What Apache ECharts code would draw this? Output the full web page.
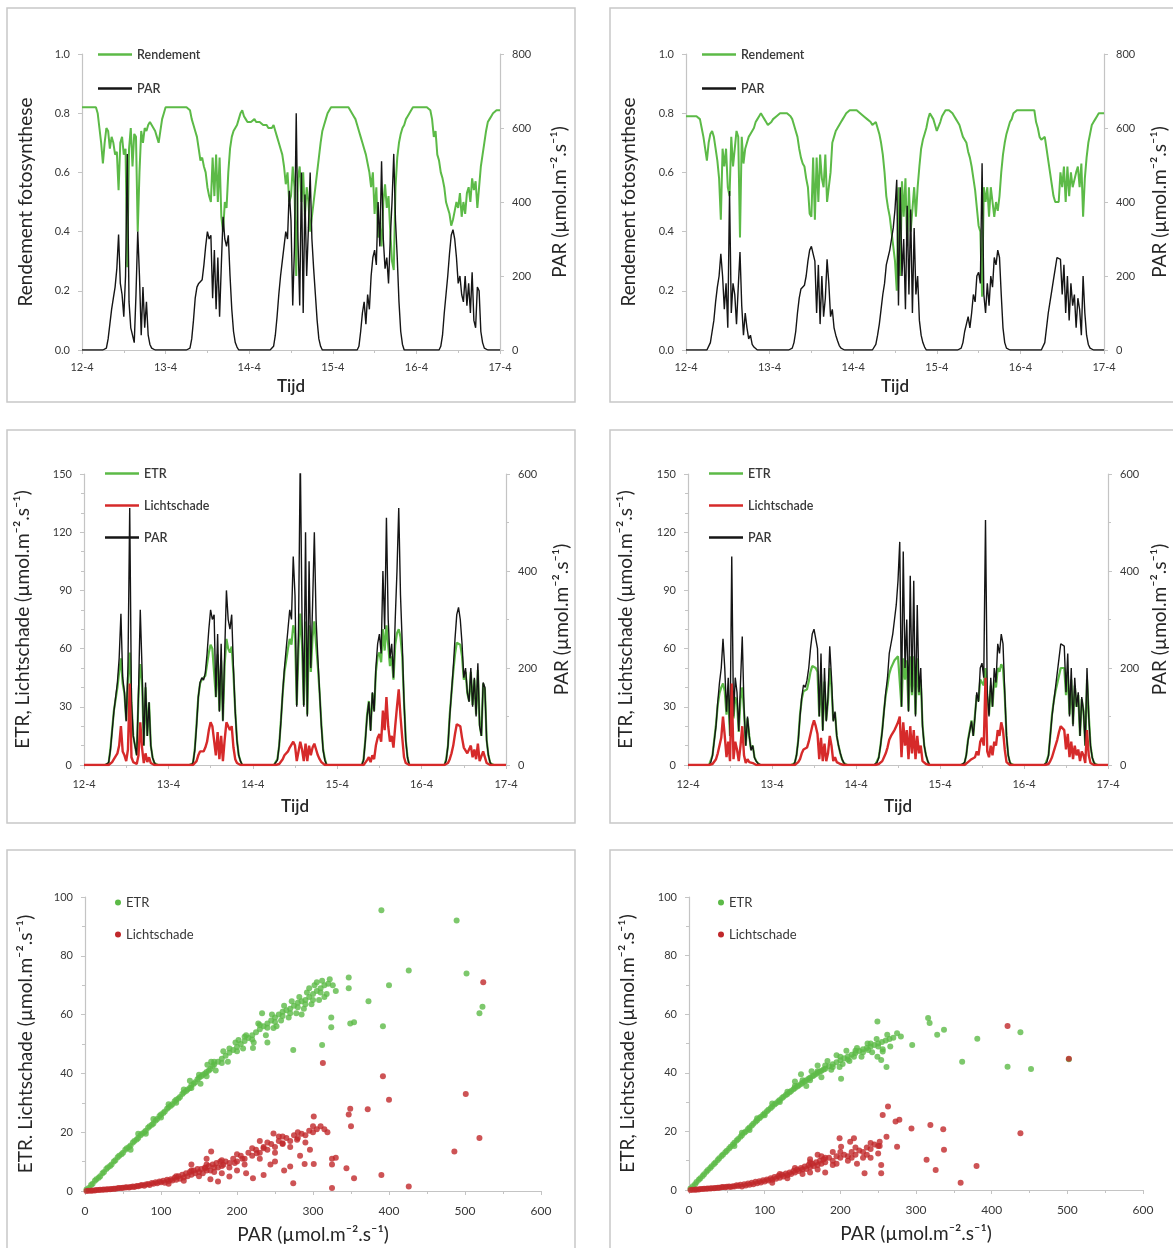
<!DOCTYPE html>
<html><head><meta charset="utf-8">
<script src="https://cdn.jsdelivr.net/npm/echarts@6/dist/echarts.min.js"></script>
<style>html,body{margin:0;padding:0;background:#fff}#c{width:1173px;height:1248px}</style>
</head><body><div id="c"></div><script>
// ---------- tick labels ----------
const dayLabels = ['12-4','13-4','14-4','15-4','16-4','17-4'];

// ---------- left column time series (half-hour steps, 12-4 00:00 .. 17-4 00:00) ----------
const parL = [
0,0,0,0,0,0,0,0,0,0,0,0,0,0, 5,30,70,110,140,170,220,312,180,150, 90,200,530,130,60,40,20,150,320,200, 40,170,60,130,40,15,5, 0,0,0,0,0,0,0,
0,0,0,0,0,0,0,0,0,0,0,0,0,0, 5,30,80,140,170,180,175,190,230,280, 320,300,310,140,270,110,250,90,230,360, 300,280,310,200,110,50,20,8, 0,0,0,0,0,0,
0,0,0,0,0,0,0,0,0,0,0,0,0,0, 10,40,90,150,200,240,280,320,300,430, 350,120,280,640,300,120,480,100,420,200, 330,480,300,220,150,80,30,10, 0,0,0,0,0,0,
0,0,0,0,0,0,0,0,0,0,0,0,0,0,0, 10,50,100,130,70,150,110,200,250, 270,230,400,280,510,300,220,250,180,300, 400,530,350,250,130,50,15, 0,0,0,0,0,0,0,
0,0,0,0,0,0,0,0,0,0,0,0,0,0, 10,40,100,150,200,260,310,325,300,250, 180,200,150,130,200,120,180,100,210,80, 60,170,160,50,20,5, 0,0,0,0,0,0,0,0,
0];
const rendL = [
0.82,0.82,0.82,0.82,0.82,0.82,0.82,0.82,0.82, 0.80,0.75,0.70,0.63,0.70,0.75,0.74,0.68,0.72,0.70, 0.66,0.67,0.54,0.70,0.72,0.66,0.68,0.28,0.68,0.75, 0.62,0.73,0.72,0.40,0.60,0.74,0.70,0.75,0.74,0.76, 0.77,0.76,0.75,0.74,0.72,0.70,0.74,0.78,0.80,
0.82,0.82,0.82,0.82,0.82,0.82,0.82,0.82,0.82,0.82,0.82,0.82,0.82,0.82, 0.81,0.78,0.76,0.74,0.72,0.68,0.64,0.65,0.62,0.60, 0.55,0.52,0.50,0.65,0.52,0.66,0.50,0.65,0.45,0.40, 0.50,0.48,0.60,0.68,0.72,0.74,0.75,0.76,0.78,0.80, 0.81,0.79,0.78,0.77,
0.77,0.77,0.77,0.78,0.77,0.77,0.77,0.77,0.76,0.76, 0.76,0.75,0.75,0.75,0.76,0.74,0.72,0.70,0.68,0.66, 0.62,0.56,0.60,0.50,0.52,0.62,0.55,0.25,0.58,0.62, 0.50,0.60,0.45,0.55,0.50,0.40,0.45,0.50,0.55,0.60, 0.65,0.70,0.74,0.76,0.78,0.80,0.81,0.82,
0.82,0.82,0.82,0.82,0.82,0.82,0.82,0.82,0.82,0.82, 0.81,0.80,0.79,0.78,0.76,0.74,0.72,0.70,0.68,0.66, 0.63,0.60,0.55,0.60,0.46,0.55,0.38,0.42,0.35,0.50, 0.56,0.48,0.52,0.40,0.30,0.27,0.55,0.65,0.70,0.73, 0.75,0.76,0.78,0.79,0.80,0.81,0.82,0.82,
0.82,0.82,0.82,0.82,0.82,0.82,0.82,0.82, 0.81,0.78, 0.72,0.74,0.66,0.64,0.60,0.58,0.55,0.50,0.48,0.46, 0.42,0.44,0.47,0.50,0.48,0.53,0.45,0.50,0.46,0.53, 0.55,0.50,0.58,0.54,0.57,0.48,0.55,0.62,0.66,0.70, 0.74,0.77,0.78,0.79,0.80,0.80,0.81,0.81,
0.81];
const etrL = [
0,0,0,0,0,0,0,0,0,0,0,0,0,0, 1,8,18,28,34,40,48,55,42,37, 23,45,58,32,15,10,5,36,52,44, 10,40,15,32,10,4,1, 0,0,0,0,0,0,0,
0,0,0,0,0,0,0,0,0,0,0,0,0,0, 1,8,21,35,42,44,43,46,52,58, 62,60,61,35,57,28,54,23,52,65, 60,58,61,47,28,13,5,2, 0,0,0,0,0,0,
0,0,0,0,0,0,0,0,0,0,0,0,0,0, 3,10,23,37,48,54,60,65,62,72, 68,31,60,78,62,31,74,26,72,48, 66,74,62,51,37,21,8,3, 0,0,0,0,0,0,
0,0,0,0,0,0,0,0,0,0,0,0,0,0,0, 3,13,26,33,18,37,28,48,56, 58,53,70,59,72,62,51,56,44,62, 68,70,66,56,33,13,4, 0,0,0,0,0,0,0,
0,0,0,0,0,0,0,0,0,0,0,0,0,0, 3,10,26,37,48,57,63,64,62,56, 44,48,37,33,48,31,44,26,49,21, 15,42,39,13,5,1, 0,0,0,0,0,0,0,0,
0];
const lsL = [
0,0,0,0,0,0,0,0,0,0,0,0,0,0, 0,0.5,1.5,3,4,6,10,20,7,5, 2,8,42,4,1.5,1,0.5,5,22,9, 1,6,1.5,4,1,0,0, 0,0,0,0,0,0,0,
0,0,0,0,0,0,0,0,0,0,0,0,0,0, 0,0.5,2,5,7,8,7,9,12,18, 22,20,21,5,17,3,15,2,13,22, 20,18,20,9,3,1,0.5,0, 0,0,0,0,0,0,
0,0,0,0,0,0,0,0,0,0,0,0,0,0, 0,0.5,1.5,3,5,6,7,9,8,12, 10,2,7,12,8,2,11,2,10,5, 9,11,8,5,3,1.5,0.5,0, 0,0,0,0,0,0,
0,0,0,0,0,0,0,0,0,0,0,0,0,0,0, 0,1,2.5,4,1.5,5,3,10,14, 16,12,28,18,35,20,12,15,9,20, 30,39,25,14,4,1,0, 0,0,0,0,0,0,0,
0,0,0,0,0,0,0,0,0,0,0,0,0,0, 0,1,3,6,10,16,21,22,20,14, 9,10,6,5,10,4,8,3,11,2, 1.5,7,7,1,0.5,0, 0,0,0,0,0,0,0,0,
0];

// ---------- right column time series ----------
const parR = [
0,0,0,0,0,0,0,0,0,0,0,0,0, 5,20,50,80,130,170,200,260,200,110, 180,60,430,100,180,150,70,170,265,120, 40,100,60,30,40,15,8,3, 0,0,0,0,0,0,0,
0,0,0,0,0,0,0,0,0,0,0,0,0, 5,20,50,100,140,165,160,175,200,240, 270,280,260,240,100,230,70,200,90,140, 245,180,90,110,60,40,25,12,5, 0,0,0,0,0,0,
0,0,0,0,0,0,0,0,0,0,0,0, 5,15,40,70,110,150,180,230,250,270, 300,330,380,460,120,440,200,300,110,390, 150,380,100,330,150,200,80,40,20,8, 0,0,0,0,0,0,
0,0,0,0,0,0,0,0,0,0,0,0,0,0, 5,20,50,70,90,60,100,150,130,200, 210,180,505,150,100,180,120,200,170,250, 230,270,250,150,60,20,5, 0,0,0,0,0,0,0,
0,0,0,0,0,0,0,0,0,0,0,0,0, 5,20,60,100,130,160,190,220,250,250, 245,150,230,100,200,80,180,120,150,60, 140,110,40,200,100,40,15,5, 0,0,0,0,0,0,0,
0];
const rendR = [
0.79,0.79,0.79,0.79,0.79,0.79,0.79,0.79, 0.78,0.75,0.72,0.68,0.64,0.70,0.73,0.74,0.72,0.68, 0.64,0.58,0.44,0.68,0.62,0.68,0.55,0.52,0.72,0.62, 0.68,0.74,0.72,0.38,0.72,0.63,0.68,0.70,0.72,0.73, 0.74,0.75,0.77,0.78,0.79,0.80,0.79,0.78,0.77,0.76,
0.76,0.77,0.78,0.78,0.79,0.79,0.80,0.80,0.80,0.80, 0.80,0.80,0.79,0.78,0.76,0.74,0.72,0.68,0.65,0.63, 0.62,0.58,0.55,0.46,0.45,0.65,0.44,0.65,0.50,0.66, 0.58,0.55,0.66,0.50,0.55,0.60,0.70,0.72,0.74,0.75, 0.76,0.77,0.78,0.79,0.80,0.80,0.81,0.81,
0.81,0.81,0.81,0.81,0.80,0.80,0.79,0.79,0.78,0.78, 0.77,0.76,0.76,0.77,0.75,0.73,0.70,0.66,0.60,0.52, 0.48,0.45,0.40,0.35,0.30,0.20,0.55,0.25,0.57,0.45, 0.58,0.35,0.55,0.40,0.40,0.55,0.45,0.55,0.62,0.68, 0.71,0.73,0.75,0.78,0.80,0.80,0.78,0.76,
0.74,0.74,0.77,0.79,0.80,0.81,0.81,0.81,0.81,0.80, 0.79,0.78,0.77,0.76,0.74,0.72,0.71,0.70,0.67,0.65, 0.62,0.58,0.54,0.48,0.42,0.40,0.18,0.55,0.50,0.55, 0.45,0.55,0.50,0.45,0.50,0.47,0.52,0.60,0.66,0.70, 0.73,0.75,0.77,0.78,0.80,0.80,0.81,0.81,
0.81,0.81,0.81,0.81,0.81,0.81,0.81,0.81,0.81, 0.77,0.75,0.72,0.71,0.71,0.72,0.68,0.64,0.60,0.56, 0.52,0.50,0.50,0.50,0.60,0.55,0.62,0.50,0.62,0.52, 0.60,0.55,0.55,0.60,0.62,0.55,0.63,0.45,0.58,0.65, 0.70,0.73,0.76,0.77,0.78,0.79,0.80,0.80,0.80,
0.80];
const etrR = [
0,0,0,0,0,0,0,0,0,0,0,0,0, 1,5,13,21,31,37,40,42,38,26, 36,15,38,24,35,32,17,34,40,28, 10,24,15,8,10,4,2,1, 0,0,0,0,0,0,0,
0,0,0,0,0,0,0,0,0,0,0,0,0, 1,5,13,26,34,38,37,39,43,48, 51,52,50,48,25,47,18,43,23,33, 50,40,23,27,15,10,6,3,1, 0,0,0,0,0,0,
0,0,0,0,0,0,0,0,0,0,0,0, 1,4,10,18,28,36,41,47,50,52, 54,55,56,55,30,55,44,54,28,56, 36,56,26,55,36,44,21,10,5,2, 0,0,0,0,0,0,
0,0,0,0,0,0,0,0,0,0,0,0,0,0, 1,5,13,18,23,15,26,36,33,44, 45,41,50,36,26,41,30,44,40,50, 48,52,50,36,15,5,1, 0,0,0,0,0,0,0,
0,0,0,0,0,0,0,0,0,0,0,0,0, 1,5,15,26,33,38,42,46,50,51, 50,36,48,26,44,21,41,30,36,15, 34,28,10,44,26,10,4,1, 0,0,0,0,0,0,0,
0];
const lsR = [
0,0,0,0,0,0,0,0,0,0,0,0,0, 0,0.5,1.5,3,6,10,14,25,15,4, 12,2,42,3,12,8,2,10,20,5, 1,3,1.5,0.5,1,0,0,0, 0,0,0,0,0,0,0,
0,0,0,0,0,0,0,0,0,0,0,0,0, 0,0.5,1.5,3,6,8,8,9,12,16, 20,23,20,16,3,14,2,11,2,6, 15,10,2,4,1.5,1,0.5,0,0, 0,0,0,0,0,0,
0,0,0,0,0,0,0,0,0,0,0,0, 0,0.5,1,2,4,6,9,13,15,16, 18,20,22,25,4,22,10,18,3,20, 6,18,3,15,6,10,2,1,0.5,0, 0,0,0,0,0,0,
0,0,0,0,0,0,0,0,0,0,0,0,0,0, 0,0.5,1.5,2,3,2,4,7,5,12, 14,10,45,7,4,10,5,12,10,18, 15,22,18,8,1.5,0.5,0, 0,0,0,0,0,0,0,
0,0,0,0,0,0,0,0,0,0,0,0,0, 0,0.5,2,4,7,10,13,17,20,20, 18,8,16,4,12,3,10,5,8,2, 7,5,1,18,5,1,0.5,0, 0,0,0,0,0,0,0,
0];

// ---------- scatter [PAR, value] ----------
const scEtrL = [
[2,0.5],[5,1],[8,2],[10,2.5],[13,3.5],[15,4],[18,4.5],[20,5],[23,6],[25,6.5],[28,7.5],[30,8],[33,8.5],[35,9],[38,10],[40,10.5],[43,11.5],[45,12],[48,12.5],[50,13],[53,14],[55,14.5],[58,15],[60,15.5],[63,16.5],[65,17],[68,17.5],[70,18],[73,19],[75,19.5],[78,20],[80,20.5],[83,21.5],[85,22],[88,22.5],[90,23],[93,24],[95,24.5],[98,25.5],[100,26],[103,26.5],[105,27],[108,28],[110,28.5],[113,29],[115,29.5],[118,30.5],[120,31],[123,31.5],[125,32],[128,33],[130,33.5],[133,34],[135,34.5],[138,35],[140,36],[143,36.5],[145,37],[148,38],[150,38.5],[153,39],[155,39.5],[158,40],[160,40.5],[163,41],[165,41.5],[168,42.5],[170,43],[175,44],[180,45],[185,46],[190,47],[195,48],[200,49],[205,50],[210,51],[215,52],[220,53],[225,54],[230,55],[235,56],[240,57],[245,58],[250,59],[255,60],[260,61],[265,61.5],[270,62],[275,63],[280,64],[285,64.5],[290,65],[295,66],[300,67],[305,68],[310,69],[315,70],[320,70.5],
[138,37.5],[152,36.5],[166,44],[172,41],[182,47.5],[188,44],[198,50.5],[208,48.5],[212,53],[222,50.5],[228,57],[238,53],[246,60],[252,56],[258,58],[262,63],[268,59],[272,64.5],[278,60.5],[282,66],[288,62],[292,67.5],[298,63.5],[302,70],[308,65],[312,71.5],[318,67],[322,72],[326,70],[330,68],
[60,14],[70,19.5],[80,19.5],[90,24.5],[100,25],[110,29.5],[120,30],[130,34.5],[140,35],[150,39.5],[160,39],[170,44],[180,43.5],[190,48.5],[200,47.5],[210,52.5],[220,51.5],[230,56.5],[240,55.5],[250,57.5],[260,59.5],[270,60.5],[280,62.5],[290,63.5],[300,65],[310,67.5],[285,60],[295,69],[305,71],[315,66],
[390,95.5],[489,92],[426,75],[502,74],[400,70],[347,72.6],[347,69],[373,64.5],[523,62.7],[519,60.5],[324,59],[324,55.7],[354,57.4],[349,57],[392,56],[312,49.7],[274,48],[221,48.6],[240,50.5],[233,60.5],[248,55.4],[202,51.4],[161,42.9]];
const scLsL = [
[2,0],[5,0.1],[8,0.1],[10,0.2],[13,0.2],[15,0.3],[18,0.3],[20,0.4],[23,0.4],[25,0.5],[28,0.5],[30,0.6],[33,0.6],[35,0.7],[38,0.8],[40,0.8],[43,0.9],[45,1],[48,1],[50,1.1],[53,1.2],[55,1.3],[58,1.2],[60,1.4],[63,1.5],[65,1.4],[68,1.7],[70,1.6],[73,1.9],[75,2],[78,1.8],[80,2.2],[83,2.4],[85,2],[88,2.7],[90,2.5],[93,3],[95,2.6],[98,3.2],[100,3],[103,3.5],[105,2.8],[108,3.8],[110,3.4],[113,4],[115,3.6],[118,4.5],[120,3.8],[123,5],[125,4.2],[128,5.5],[130,4.6],[133,6],[135,5],[138,6.5],[140,5.5],[143,7],[145,6],[148,7.5],[150,6.5],[153,7.5],[155,6],[158,8],[160,7],[163,8.5],[165,7],[168,9],[170,8],[173,9.5],[175,8],[178,10],[180,8.5],[185,10],[190,9.5],[195,11],[200,10],[205,12],[210,11],[215,13],[220,12],[225,14],[230,13],[235,15],[240,14],[245,16],[250,15],[255,17],[260,16],[265,18],[270,17],[275,19],[280,18],[285,19.5],[290,19],[295,20.5],[300,20],[305,21],[310,22],[315,21],
[110,2.5],[120,5],[130,3.5],[140,7],[150,5],[160,9],[170,6.5],[180,10.5],[190,8],[200,12.5],[210,9],[220,14.5],[230,11],[240,16.5],[250,13],[260,18.5],[270,15],[280,20],[290,16.5],[300,22],[140,9],[160,11],[180,6],[200,7],[230,17],[250,10],
[313,43.5],[392,39],[400,31],[372,27.8],[349,28],[347,26],[350,22],[301,25.3],[319,20],[501,33],[519,18],[524,71],[486,13.4],[390,5.4],[344,7.7],[354,4.3],[426,1.5],[325,1],[325,11],[330,11.3],[325,9],[274,2.6],[262,7],[270,8.3],[289,9.2],[301,9.2],[279,17.4],[235,5.4],[221,4.3],[190,4.9],[175,3.2],[166,13.4],[248,19.6],[255,18.5],[260,16.2],[235,14.5],[226,12.8],[207,11],[197,9.5],[182,8.9],[158,7.7],[165,4],[212,6],[244,9],[283,12],[296,14]];
const scEtrR = [
[2,0.5],[5,1.3],[8,2],[10,2.7],[13,3.5],[15,4],[18,4.8],[20,5.4],[23,6.2],[25,6.8],[28,7.5],[30,8.1],[33,8.9],[35,9.4],[38,10.2],[40,10.8],[43,11.6],[45,12.1],[48,12.9],[50,13.4],[53,14.2],[55,14.8],[58,15.5],[60,16.1],[63,16.9],[65,17.4],[68,18.2],[70,18.7],[73,19.5],[75,20],[78,20.8],[80,21.3],[83,22],[85,22.6],[88,23.3],[90,23.8],[93,24.5],[95,25],[98,25.7],[100,26.2],[103,26.9],[105,27.4],[108,28],[110,28.5],[113,29.2],[115,29.6],[118,30.3],[120,30.7],[123,31.4],[125,31.8],[128,32.4],[130,32.8],[133,33.4],[135,33.8],[138,34.4],[140,34.8],[143,35.3],[145,35.7],[148,36.2],[150,36.6],[153,37.1],[155,37.5],[158,38],[160,38.3],[163,38.8],[165,39.1],[168,39.6],[170,40],[173,40.4],[175,40.7],[178,41.1],[180,41.4],[185,42.2],[190,42.9],[195,43.6],[200,44.3],[205,45],[210,45.6],[215,46.2],[220,46.8],[225,47.4],[230,48],[235,48.5],[240,49],[245,49.5],[250,50],[255,50.5],[260,51],[265,51.5],[270,52],
[140,37],[148,39.5],[155,35.5],[162,40.5],[170,42.5],[175,38.5],[183,44],[188,41],[195,46],[203,43],[208,47.5],[212,44],[222,48.5],[228,45.5],[236,50],[242,47],[248,51.5],[256,48],[262,53],[266,49],
[60,15],[70,19.5],[80,20.5],[90,24.5],[100,25.5],[110,29.5],[120,30],[130,33.5],[140,35.5],[150,37.5],[160,37.5],[170,40.5],[180,42.5],[190,42],[200,45.5],[210,44.5],[220,47.5],[230,47],[240,50],[250,49],
[249,57.5],[316,58.7],[318,57],[337,54.7],[328,53],[381,51.6],[438,53.8],[295,49.5],[421,42.1],[452,41.3],[361,43.8],[502,44.6],[275,53.5],[280,52.4],[261,42],[254,44.4],[256,47.3],[249,45.5],[237,47.8],[201,38],[199,42],[218,45.5]];
const scLsR = [
[2,0],[5,0.1],[8,0.1],[10,0.2],[13,0.2],[15,0.3],[18,0.3],[20,0.4],[23,0.4],[25,0.5],[28,0.5],[30,0.6],[33,0.6],[35,0.7],[38,0.8],[40,0.8],[43,0.9],[45,1],[48,0.9],[50,1.1],[53,1.2],[55,1],[58,1.3],[60,1.2],[63,1.6],[65,1.4],[68,1.8],[70,1.2],[73,2],[75,1.5],[78,2.2],[80,1.8],[83,2.5],[85,2],[88,2.8],[90,2.3],[93,3],[95,2.6],[98,3.3],[100,2.9],[103,3.6],[105,3.2],[108,4],[110,3.5],[113,4.4],[115,3.8],[118,4.8],[120,4.2],[123,5.2],[125,4.6],[128,5.6],[130,5],[133,6],[135,5.5],[138,6.5],[140,6],[143,7],[145,6.5],[148,7.5],[150,7],[153,8],[155,7.2],[158,8.5],[160,7.8],[163,9],[165,8.2],[168,9.5],[170,8.5],[173,10],[175,9],[178,10.5],[180,9.5],[185,11],[190,10],[195,11.5],[200,11],[205,12],[210,11.5],[215,13],[220,12],[225,13.5],[230,13],[235,14.5],[240,14],[245,15.5],[250,15],
[110,2.5],[120,5.5],[130,4],[140,7.5],[150,5.5],[160,9.5],[170,7],[180,11],[190,8.5],[200,13],[210,10],[220,14.5],[230,11],[240,16],[250,12.5],[160,6],[175,11.5],[195,9],[215,11],[235,12],
[421,56],[502,44.8],[438,19.4],[263,28.5],[256,25.6],[278,24],[273,23.4],[294,21],[319,22.2],[336,20.7],[337,13.7],[314,10.3],[326,6.8],[380,8.2],[359,2.5],[275,14.8],[261,18.2],[252,16.5],[252,15],[254,5.7],[254,8.5],[232,5.7],[218,17.7],[199,17.7],[201,14.8],[213,16.5],[170,12],[180,6],[190,13],[160,10.5],[222,9],[240,11]];

// ---------- styles ----------
const FONT = 'Lato, "Open Sans", "DejaVu Sans", sans-serif';
const GREEN = '#5cba47', BLACK = '#151515', RED = '#d62a2a', SRED = '#c0282b', AX = '#c4c4c4', TXT = '#383838', NAME = '#262626';
const UNIT = 'PAR (µmol.m⁻².s⁻¹)';
const ts = arr => arr.map((v, i) => [i / 48, v]);

function timeX(g, gap, margin) {
  return { gridIndex: g, type: 'value', min: 0, max: 5, interval: 1,
    name: 'Tijd', nameLocation: 'middle', nameGap: gap,
    nameTextStyle: { fontSize: 17, fontWeight: 600, color: NAME, fontFamily: FONT },
    axisLine: { lineStyle: { color: AX, width: 1.2 } },
    axisTick: { show: true, length: 4, lineStyle: { color: AX } },
    minorTick: { show: true, splitNumber: 2, length: 3, lineStyle: { color: AX } },
    splitLine: { show: false },
    axisLabel: { formatter: v => dayLabels[Math.round(v)], fontSize: 11, color: TXT, margin: margin, fontFamily: FONT, showMinLabel: true, showMaxLabel: true } };
}
function valY(g, pos, max, interval, fmt, name, gap, minorSplit) {
  return { gridIndex: g, type: 'value', position: pos, min: 0, max: max, interval: interval,
    name: name, nameLocation: 'middle', nameGap: gap, nameRotate: 90,
    nameTextStyle: { fontSize: 19, color: NAME, fontFamily: FONT },
    axisLine: { show: true, lineStyle: { color: AX, width: 1.2 } },
    axisTick: { show: true, length: 4, lineStyle: { color: AX } },
    minorTick: { show: !!minorSplit, splitNumber: minorSplit || 2, length: 3, lineStyle: { color: AX } },
    splitLine: { show: false },
    axisLabel: { formatter: fmt, fontSize: 11, color: TXT, margin: 12, fontFamily: FONT } };
}
function parX(g) {
  return { gridIndex: g, type: 'value', min: 0, max: 600, interval: 100, name: UNIT, nameLocation: 'middle', nameGap: 34,
    nameTextStyle: { fontSize: 19, color: NAME, fontFamily: FONT },
    axisLine: { lineStyle: { color: AX, width: 1.2 } }, axisTick: { length: 4, lineStyle: { color: AX } },
    minorTick: { show: true, splitNumber: 2, length: 3, lineStyle: { color: AX } }, splitLine: { show: false },
    axisLabel: { fontSize: 12, color: TXT, margin: 14, fontFamily: FONT } };
}
function line(name, data, xi, yi, color, w) {
  return { name, type: 'line', xAxisIndex: xi, yAxisIndex: yi, data: ts(data), showSymbol: false, symbol: 'none',
    lineStyle: { color, width: w }, itemStyle: { color }, animation: false };
}
function lineLegend(data, left, top, gap) {
  return { orient: 'vertical', left, top, padding: 0, itemGap: gap, icon: 'rect', itemWidth: 34, itemHeight: 2.5,
    textStyle: { fontSize: 12.5, color: TXT, fontFamily: FONT, fontWeight: 600 }, data, selectedMode: false };
}
function dotLegend(left, top) {
  return { orient: 'vertical', left, top, padding: 0, itemGap: 19, itemWidth: 6, itemHeight: 6, selectedMode: false,
    textStyle: { fontSize: 13, color: TXT, fontFamily: FONT },
    data: [{ name: 'ETR', icon: 'circle', itemStyle: { color: GREEN } }, { name: 'Lichtschade', icon: 'circle', itemStyle: { color: SRED } }] };
}
function frame(x, y, w, h) {
  return { type: 'rect', shape: { x, y, width: w, height: h }, style: { fill: 'none', stroke: '#c8c8c8', lineWidth: 1.5 }, silent: true };
}
function scatter(name, data, xi, yi, color) {
  return { name, type: 'scatter', xAxisIndex: xi, yAxisIndex: yi, data, symbolSize: 6, itemStyle: { color }, animation: false };
}
const f1 = v => v.toFixed(1), f0 = v => String(v);

const option = {
  backgroundColor: '#fff',
  textStyle: { fontFamily: FONT },
  graphic: [frame(7, 8, 568, 394), frame(610, 8, 580, 394), frame(7, 430, 568, 393), frame(610, 430, 580, 393), frame(7, 850, 568, 410), frame(610, 850, 580, 410)],
  grid: [
    { left: 82, top: 54, width: 418, height: 296 },
    { left: 686, top: 54, width: 418, height: 296 },
    { left: 84, top: 474, width: 422, height: 291 },
    { left: 688, top: 474, width: 420, height: 291 },
    { left: 85, top: 897, width: 456, height: 294 },
    { left: 689, top: 897, width: 454, height: 293 }
  ],
  xAxis: [ timeX(0, 28, 12), timeX(1, 28, 12), timeX(2, 33, 14), timeX(3, 33, 14), parX(4), parX(5) ],
  yAxis: [
    valY(0, 'left', 1, 0.2, f1, 'Rendement fotosynthese', 47),
    valY(0, 'right', 800, 200, f0, UNIT, 50),
    valY(1, 'left', 1, 0.2, f1, 'Rendement fotosynthese', 48),
    valY(1, 'right', 800, 200, f0, UNIT, 46),
    valY(2, 'left', 150, 30, f0, 'ETR, Lichtschade (µmol.m⁻².s⁻¹)', 52, 3),
    valY(2, 'right', 600, 200, f0, UNIT, 46, 2),
    valY(3, 'left', 150, 30, f0, 'ETR, Lichtschade (µmol.m⁻².s⁻¹)', 53, 3),
    valY(3, 'right', 600, 200, f0, UNIT, 42, 2),
    valY(4, 'left', 100, 20, f0, 'ETR. Lichtschade (µmol.m⁻².s⁻¹)', 50, 2),
    valY(5, 'left', 100, 20, f0, 'ETR, Lichtschade (µmol.m⁻².s⁻¹)', 52, 2)
  ],
  legend: [
    lineLegend(['Rendement', 'PAR'], 98, 48, 21),
    lineLegend(['Rendement', 'PAR'], 702, 48, 21),
    lineLegend(['ETR', 'Lichtschade', 'PAR'], 105, 467, 19),
    lineLegend(['ETR', 'Lichtschade', 'PAR'], 709, 467, 19),
    dotLegend(115, 896),
    dotLegend(718, 896)
  ],
  series: [
    line('Rendement', rendL, 0, 0, GREEN, 2),
    line('PAR', parL, 0, 1, BLACK, 1.4),
    line('Rendement', rendR, 1, 2, GREEN, 2),
    line('PAR', parR, 1, 3, BLACK, 1.4),
    line('ETR', etrL, 2, 4, GREEN, 2.2),
    line('PAR', parL, 2, 5, BLACK, 1.4),
    line('Lichtschade', lsL, 2, 4, RED, 2.4),
    line('ETR', etrR, 3, 6, GREEN, 2.2),
    line('PAR', parR, 3, 7, BLACK, 1.4),
    line('Lichtschade', lsR, 3, 6, RED, 2.4),
    scatter('ETR', scEtrL, 4, 8, GREEN),
    scatter('Lichtschade', scLsL, 4, 8, SRED),
    scatter('ETR', scEtrR, 5, 9, GREEN),
    scatter('Lichtschade', scLsR, 5, 9, SRED)
  ]
};
const chart = echarts.init(document.getElementById('c'), null, { renderer: 'canvas' });
chart.setOption(option);
</script></body></html>
